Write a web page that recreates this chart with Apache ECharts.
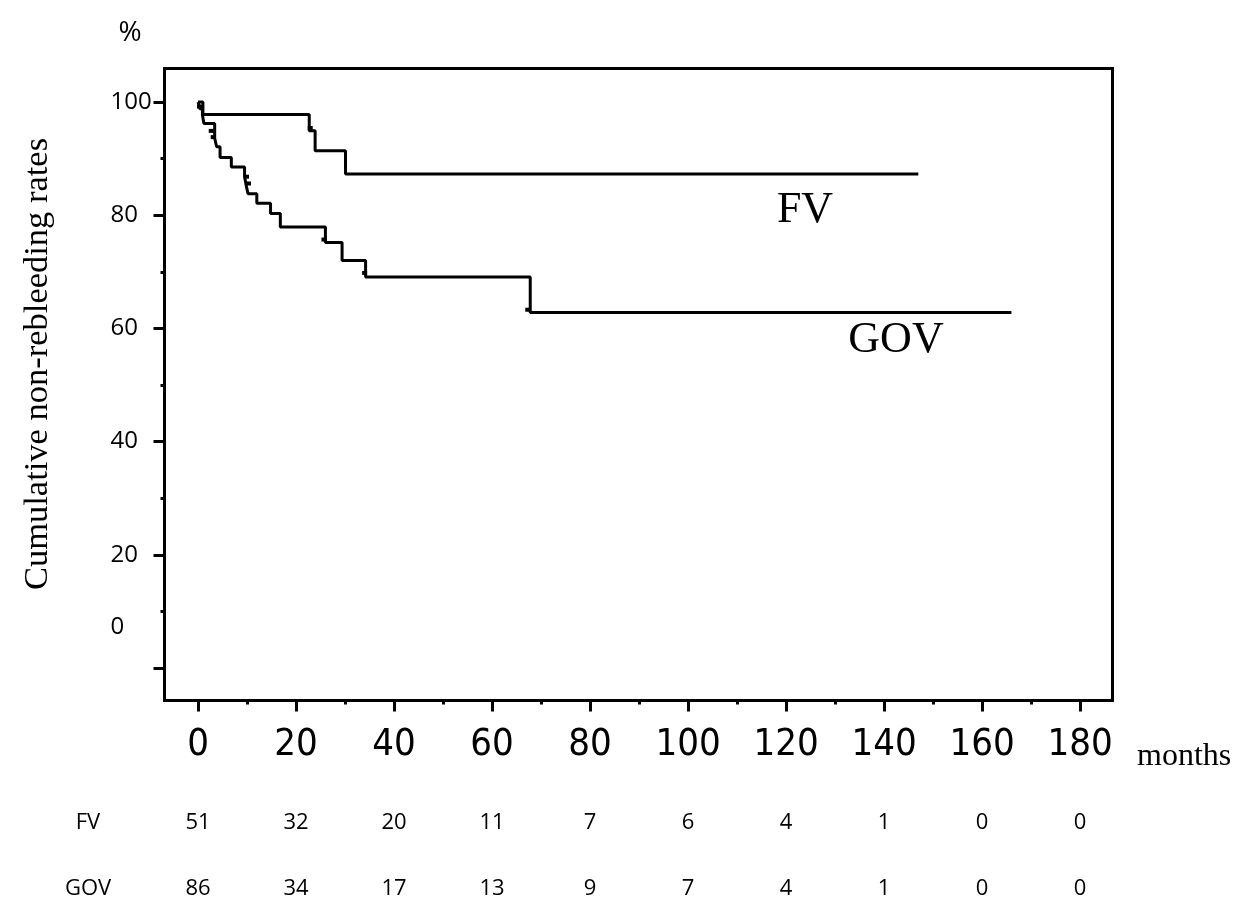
<!DOCTYPE html>
<html>
<head>
<meta charset="utf-8">
<script src="https://cdn.jsdelivr.net/npm/echarts@6/dist/echarts.min.js"></script>
<style>html,body{margin:0;padding:0;background:#fff;}#chart{width:1250px;height:900px;}</style>
</head>
<body>
<div id="chart"></div>
<script>
// ---- data ----
const xTickValues = [0, 20, 40, 60, 80, 100, 120, 140, 160, 180];
const xMinorTicks = [10, 30, 50, 70, 90, 110, 130, 150, 170];
const yTickValues = [0, 20, 40, 60, 80, 100];
const yMinorTicks = [10, 30, 50, 70, 90];
const fvAtRisk = [51, 32, 20, 11, 7, 6, 4, 1, 0, 0];
const govAtRisk = [86, 34, 17, 13, 9, 7, 4, 1, 0, 0];
const fvTime = [0, 1.0, 22.7, 23.9, 30.1, 147];
const fvSurv = [100, 97.8, 94.9, 91.4, 87.3, 87.3];
const govTime = [0, 0.4, 0.9, 1.2, 3.4, 3.8, 4.5, 6.8, 9.5, 9.9, 10.2, 12.0, 14.8, 16.8, 26.0, 29.4, 34.2, 67.8, 166];
const govSurv = [100, 98.8, 97.7, 96.2, 93.6, 92.1, 90.2, 88.5, 86.8, 85.0, 83.8, 82.1, 80.3, 77.9, 75.2, 72.0, 69.1, 62.8, 62.8];
const fvCensorTime = [0.3, 22.9];
const fvCensorSurv = [99.2, 95.4];
const govCensorTime = [2.7, 3.1, 9.9, 10.3, 25.7, 34.0, 67.3];
const govCensorSurv = [94.9, 93.8, 86.8, 85.6, 75.7, 69.8, 63.3];

const zip = (a, b) => a.map((v, i) => [v, b[i]]);
const chart = echarts.init(document.getElementById('chart'), null, {renderer: 'canvas'});
const X_MIN = -6.84, X_MAX = 186.63, Y_MIN = -5.74, Y_MAX = 105.92;
const tickStyle = {color: '#000', width: 3};
const sans = '"Open Sans", "Noto Sans", sans-serif';
const serif = '"Liberation Serif", "Times New Roman", serif';
const narrow = '"DejaVu Sans Condensed", "Liberation Sans Narrow", "Liberation Sans", sans-serif';
const noLine = {show: false, onZero: false};

function riskAxis(arr, name, offset) {
  return {
    type: 'value', min: X_MIN, max: X_MAX, position: 'bottom', offset: offset,
    axisLine: noLine, axisTick: {show: false}, splitLine: {show: false},
    axisLabel: {customValues: xTickValues, formatter: v => String(arr[Math.round(v / 20)]),
      margin: 0, verticalAlign: 'middle', fontSize: 22, fontFamily: sans, color: '#000'},
    name: name, nameLocation: 'start', nameGap: 76.5,
    nameTextStyle: {align: 'center', verticalAlign: 'middle', fontSize: 22, fontFamily: sans, color: '#000'}
  };
}
const censorSeries = (t, s) => ({type: 'scatter', symbol: 'rect', symbolSize: [5, 4],
  xAxisIndex: 0, yAxisIndex: 0, itemStyle: {color: '#000', opacity: 1}, silent: true, data: zip(t, s)});

chart.setOption({
  animation: false,
  backgroundColor: '#fff',
  grid: {left: 164.5, right: 137.5, top: 68.5, bottom: 199.5, show: true,
    borderColor: '#000', borderWidth: 3, backgroundColor: 'transparent'},
  xAxis: [
    {type: 'value', min: X_MIN, max: X_MAX, position: 'bottom',
      axisLine: noLine, splitLine: {show: false},
      axisTick: {customValues: xTickValues, length: 11, lineStyle: tickStyle},
      axisLabel: {customValues: xTickValues, margin: 26, fontSize: 38,
        fontFamily: narrow, color: '#000'}},
    {type: 'value', min: X_MIN, max: X_MAX, position: 'bottom',
      axisLine: noLine, splitLine: {show: false},
      axisTick: {customValues: xMinorTicks, length: 4, lineStyle: tickStyle},
      axisLabel: {show: false}},
    riskAxis(fvAtRisk, 'FV', 122),
    riskAxis(govAtRisk, 'GOV', 188)
  ],
  yAxis: [
    {type: 'value', min: Y_MIN, max: Y_MAX, position: 'left',
      axisLine: noLine, splitLine: {show: false},
      axisTick: {customValues: yTickValues, length: 11, lineStyle: tickStyle},
      axisLabel: {customValues: yTickValues, align: 'left', margin: 54, fontSize: 24,
        fontFamily: sans, color: '#000',
        formatter: v => v === 0 ? '{z|0}' : String(v),
        rich: {z: {padding: [0, 0, 82, 0], fontSize: 24, fontFamily: sans, color: '#000'}}}},
    {type: 'value', min: Y_MIN, max: Y_MAX, position: 'left',
      axisLine: noLine, splitLine: {show: false},
      axisTick: {customValues: yMinorTicks, length: 4, lineStyle: tickStyle},
      axisLabel: {show: false}}
  ],
  series: [
    {name: 'FV', type: 'line', step: 'end', symbol: 'none', xAxisIndex: 0, yAxisIndex: 0,
      lineStyle: {color: '#000', width: 3}, data: zip(fvTime, fvSurv)},
    {name: 'GOV', type: 'line', step: 'end', symbol: 'none', xAxisIndex: 0, yAxisIndex: 0,
      lineStyle: {color: '#000', width: 3}, data: zip(govTime, govSurv)},
    censorSeries(fvCensorTime, fvCensorSurv),
    censorSeries(govCensorTime, govCensorSurv)
  ],
  graphic: [
    {type: 'text', x: 130, y: 33, style: {text: '%', fontSize: 28, fontFamily: sans, fill: '#000', align: 'center', verticalAlign: 'middle'}},
    {type: 'text', x: 38, y: 364, rotation: Math.PI / 2, style: {text: 'Cumulative non-rebleeding rates', fontSize: 34.5, fontFamily: serif, fill: '#000', align: 'center', verticalAlign: 'middle'}},
    {type: 'text', x: 1137, y: 757, style: {text: 'months', fontSize: 32, fontFamily: serif, fill: '#000', align: 'left', verticalAlign: 'middle'}},
    {type: 'text', x: 805, y: 210, style: {text: 'FV', fontSize: 44, fontFamily: serif, fill: '#000', align: 'center', verticalAlign: 'middle'}},
    {type: 'text', x: 896, y: 340, style: {text: 'GOV', fontSize: 44, fontFamily: serif, fill: '#000', align: 'center', verticalAlign: 'middle'}}
  ]
});
</script>
</body>
</html>
